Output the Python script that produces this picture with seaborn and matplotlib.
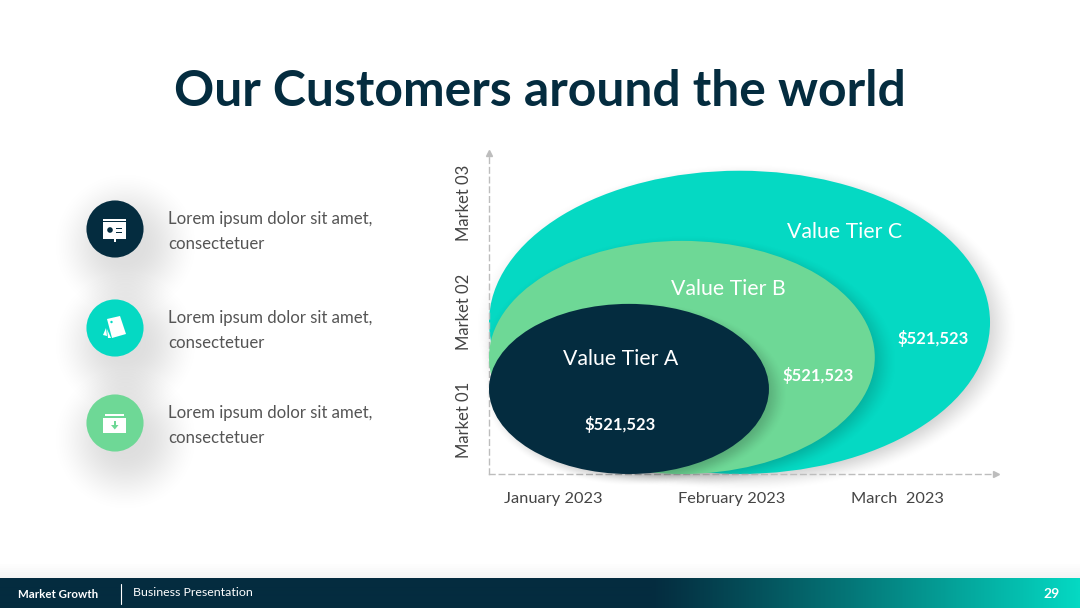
"""Customer value tiers slide, nested ellipses over month and market axes."""

import matplotlib

matplotlib.use("Agg")
import matplotlib.pyplot as plt
import numpy as np
import pandas as pd
import seaborn as sns
from matplotlib.colors import LinearSegmentedColormap
from matplotlib.patches import Circle, Ellipse, Polygon, Rectangle

NAVY = "#042C3F"
TEAL = "#05D9C3"
GREEN = "#6ED896"

title = "Our Customers around the world"
months = ["January 2023", "February 2023", "March  2023"]
markets = ["Market 01", "Market 02", "Market 03"]

# tiers drawn largest first, sizes in axis units (months, markets)
tiers = ["Value Tier C", "Value Tier B", "Value Tier A"]
tier_widths = [2.935, 2.26, 1.64]
tier_heights = [2.806, 2.157, 1.574]
tier_values = ["$521,523", "$521,523", "$521,523"]
tier_colors = [TEAL, GREEN, NAVY]

bullet_texts = ["Lorem ipsum dolor sit amet,\nconsectetuer"] * 3
bullet_colors = [NAVY, TEAL, GREEN]

footer_left = "Market Growth"
footer_right = "Business Presentation"
page_number = "29"


def soft_shadow(target, cx, cy, w, h, strength, spread, zorder):
    """Black blob with a smooth edge, drawn as an RGBA image."""
    half_w = w / 2 * (1 + spread)
    half_h = h / 2 * (1 + spread)
    xx, yy = np.meshgrid(np.linspace(-half_w, half_w, 300), np.linspace(-half_h, half_h, 300))
    dist = np.sqrt((xx / (w / 2)) ** 2 + (yy / (h / 2)) ** 2)
    fade = np.clip((1 + spread - dist) / (2 * spread), 0, 1)
    rgba = np.zeros((300, 300, 4))
    rgba[..., 3] = strength * fade * fade * (3 - 2 * fade)
    target.imshow(rgba, extent=(cx - half_w, cx + half_w, cy - half_h, cy + half_h),
                  origin="lower", aspect="auto", interpolation="bilinear",
                  zorder=zorder, clip_on=False)


sns.set_theme(style="white")
plt.rcParams["font.family"] = ["Lato", "DejaVu Sans"]

fig = plt.figure(figsize=(10.8, 6.08), dpi=100, facecolor="white")

# slide furniture, in pixel units
page = fig.add_axes([0, 0, 1, 1])
page.axis("off")

page.text(540, 92, title, ha="center", va="center", fontsize=35.9,
          fontweight="bold", color=NAVY)

# soft shadow above the footer
for i in range(8):
    page.add_patch(Rectangle((0, 578 - i * 2), 1080, 2, color="black",
                             alpha=0.006 * (8 - i), lw=0))

ramp = LinearSegmentedColormap.from_list("footer", [NAVY, TEAL])
stops = np.concatenate([np.zeros(650), np.linspace(0, 1, 430) ** 1.1])[None, :]
page.imshow(stops, extent=(0, 1080, 608, 578), cmap=ramp, aspect="auto", zorder=2,
            interpolation="bilinear")
page.plot([120.5, 120.5], [584, 604], color="white", lw=0.8, zorder=3)
page.text(18, 594, footer_left, color="white", fontsize=8.3, fontweight="bold",
          va="center", zorder=3)
page.text(133, 593, footer_right, color="white", fontsize=8.9, va="center", zorder=3)
page.text(1052, 594, page_number, color="white", fontsize=10, fontweight="bold",
          ha="center", va="center", zorder=3)

# left column
bullets = pd.DataFrame({
    "x": [115, 115, 115],
    "y": [229, 328, 423],
    "name": ["a", "b", "c"],
})
for _, row in bullets.iterrows():
    soft_shadow(page, row["x"] + 10, row["y"] + 16, 90, 90, 0.13, 0.7, 1)
sns.scatterplot(data=bullets, x="x", y="y", hue="name", palette=bullet_colors,
                s=1690, linewidth=0, legend=False, ax=page, zorder=3)
page.set_xlabel("")
page.set_ylabel("")

for y, text in zip(bullets["y"], bullet_texts):
    first, second = text.split("\n")
    page.text(168, y - 10, first, color="#555555", fontsize=12.1, va="center")
    page.text(168, y + 15, second, color="#555555", fontsize=12.1, va="center")

# icon 1, presentation board
page.add_patch(Rectangle((103, 219), 23, 1.5, color="white", lw=0, zorder=4))
page.add_patch(Rectangle((103, 222), 23, 17, color="white", lw=0, zorder=4))
page.add_patch(Rectangle((114, 239), 1.6, 2.5, color="white", lw=0, zorder=4))
page.add_patch(Circle((110, 230), 2.8, color=NAVY, lw=0, zorder=5))
page.add_patch(Rectangle((116, 227.5), 6, 1.6, color=NAVY, lw=0, zorder=5))
page.add_patch(Rectangle((116, 231.5), 6, 1.6, color=NAVY, lw=0, zorder=5))

# icon 2, tags
page.add_patch(Polygon([(107, 319), (120, 316), (126, 334), (112, 338)], color="white",
                       lw=0, zorder=4))
page.add_patch(Circle((111.5, 322), 1.2, color=TEAL, lw=0, zorder=5))
page.add_patch(Polygon([(103, 335), (106, 328), (107, 336)], color="white", lw=0, zorder=4))
page.add_patch(Polygon([(108, 338), (107, 329), (111, 338)], color="white", lw=0, zorder=4))

# icon 3, archive box
page.add_patch(Rectangle((105, 414), 19, 1.5, color="white", lw=0, zorder=4))
page.add_patch(Rectangle((103, 418), 23, 15, color="white", lw=0, zorder=4))
page.add_patch(Rectangle((114, 421), 1.6, 6, color=GREEN, lw=0, zorder=5))
page.add_patch(Polygon([(111, 425), (118.5, 425), (114.8, 429.5)], color=GREEN, lw=0, zorder=5))

# imshow and scatterplot move the limits, so pin them last
page.set_xlim(0, 1080)
page.set_ylim(608, 0)

# chart, x runs over 3 months and y over 3 markets
ax = fig.add_axes([489 / 1080, (608 - 474) / 608, 507 / 1080, 321 / 608])
ax.patch.set_alpha(0)
sns.despine(ax=ax)
for side in ["left", "bottom"]:
    ax.spines[side].set_linestyle((0, (4, 3)))
    ax.spines[side].set_color("#BDBDBD")
    ax.spines[side].set_linewidth(1)
ax.plot(1, 0, ">", color="#BDBDBD", ms=5, transform=ax.transAxes, clip_on=False)
ax.plot(0, 1, "^", color="#BDBDBD", ms=5, transform=ax.transAxes, clip_on=False)

ax.set_xticks([0.375, 1.42, 2.39], months)
ax.set_yticks([0.5, 1.5, 2.51], markets)
ax.tick_params(axis="x", length=0, pad=13, labelsize=11.8, labelcolor="#444444")
ax.tick_params(axis="y", length=0, pad=12, labelsize=12, labelcolor="#444444")
for label in ax.get_yticklabels():
    label.set_rotation(90)
    label.set_va("center")

for i, (w, h, color) in enumerate(zip(tier_widths, tier_heights, tier_colors)):
    soft_shadow(ax, w / 2 + 0.04, h / 2 - 0.045, w, h, 0.2, 0.09, 2 + i)
    ax.add_patch(Ellipse((w / 2, h / 2), w, h, color=color, lw=0, clip_on=False,
                         zorder=2 + i))

name_xy = [(2.08, 2.24), (1.40, 1.71), (0.773, 1.065)]
value_xy = [(2.60, 1.25), (1.93, 0.915), (0.767, 0.46)]
for name, value, nxy, vxy in zip(tiers, tier_values, name_xy, value_xy):
    ax.text(*nxy, name, color="white", fontsize=15.3, ha="center", va="center", zorder=8)
    ax.text(*vxy, value, color="white", fontsize=12, fontweight="bold",
            ha="center", va="center", zorder=8)

ax.set_xlim(0, 2.97)
ax.set_ylim(0, 2.97)

fig.savefig("out.png", dpi=100)
plt.close(fig)
